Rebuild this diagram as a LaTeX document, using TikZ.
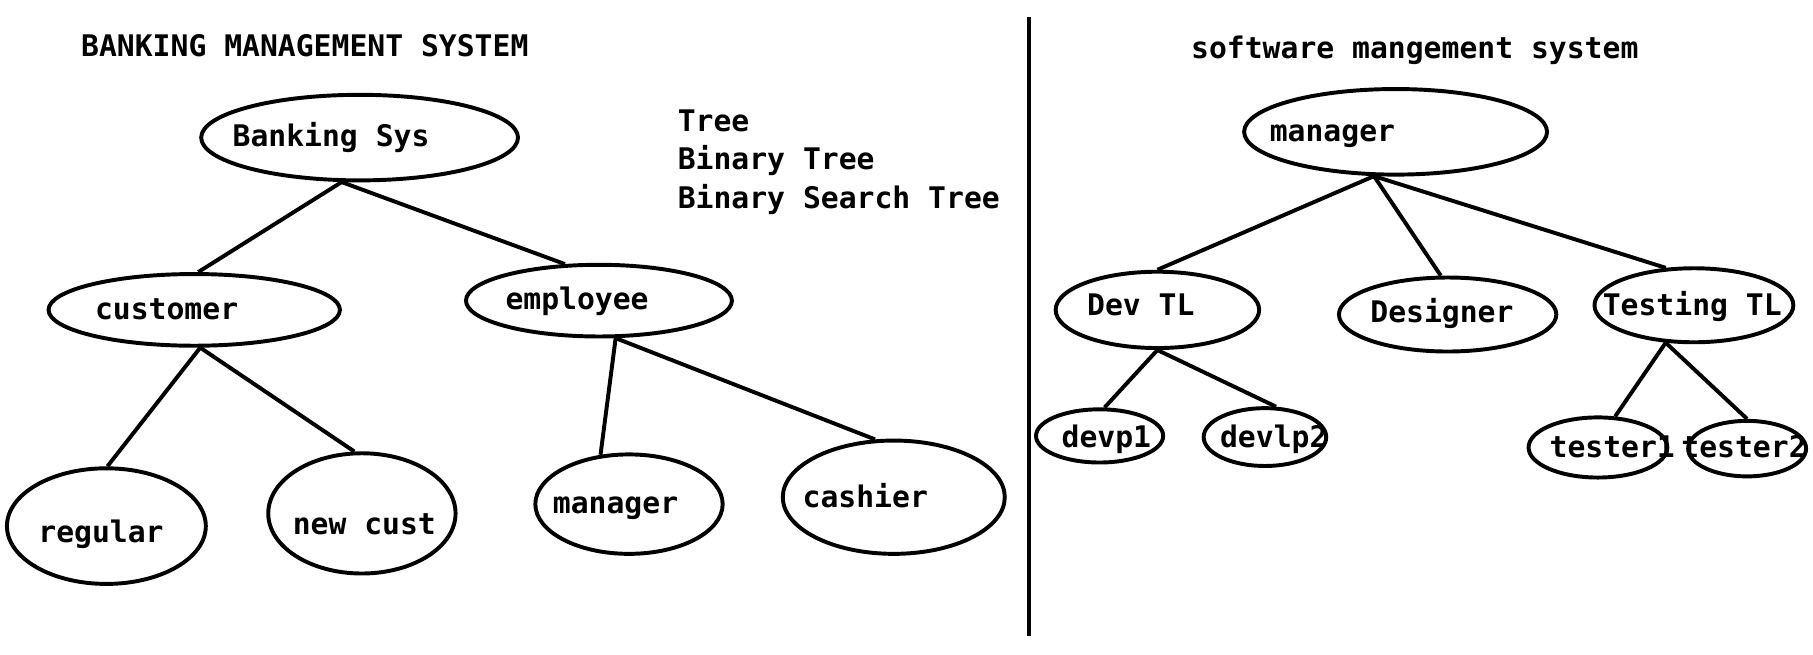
\documentclass[tikz,border=0pt]{standalone}
\usepackage{fontspec}
\setmonofont{DejaVu Sans Mono}
\usetikzlibrary{shapes.geometric}
\begin{document}
\begin{tikzpicture}[x=1pt,y=-1pt,
  ell/.style={draw, ellipse, line width=3.4pt, inner sep=0pt},
  lbl/.style={anchor=base west, inner sep=0pt, font=\ttfamily\bfseries\fontsize{25.7}{30}\selectfont},
  edge/.style={line width=3.4pt}]
\useasboundingbox (0,0) rectangle (1568,566);
% left tree
\node[ell, minimum width=274pt, minimum height=74pt] (bs) at (311,119) {};
\node[ell, minimum width=252pt, minimum height=62pt] (cust) at (168,268) {};
\node[ell, minimum width=230pt, minimum height=62pt] (emp) at (518,260) {};
\node[ell, minimum width=172pt, minimum height=100pt] (reg) at (92,455) {};
\node[ell, minimum width=162pt, minimum height=104pt] (nc) at (313,444) {};
\node[ell, minimum width=162pt, minimum height=86pt] (mgr) at (544,436) {};
\node[ell, minimum width=192pt, minimum height=98pt] (cash) at (773,430) {};
% right tree
\node[ell, minimum width=262pt, minimum height=74pt] (mr) at (1207,114) {};
\node[ell, minimum width=176pt, minimum height=66pt] (dtl) at (1001,268) {};
\node[ell, minimum width=188pt, minimum height=64pt] (des) at (1252,272) {};
\node[ell, minimum width=172pt, minimum height=64pt] (ttl) at (1465,264) {};
\node[ell, minimum width=110pt, minimum height=46pt] (d1) at (951,377) {};
\node[ell, minimum width=106pt, minimum height=50pt] (d2) at (1094,378) {};
\node[ell, minimum width=120pt, minimum height=52pt] (t1) at (1382,387) {};
\node[ell, minimum width=102pt, minimum height=48pt] (t2) at (1511,388) {};
% connectors
\draw[edge] (bs.248) -- (cust.84);
\draw[edge] (bs.248) -- (emp.133);
\draw[edge] (cust.279) -- (reg.89);
\draw[edge] (cust.279) -- (nc.97);
\draw[edge] (emp.294) -- (mgr.120);
\draw[edge] (emp.294) -- (cash.108);
\draw[edge] (mr.244) -- (dtl.90);
\draw[edge] (mr.244) -- (des.100);
\draw[edge] (mr.244) -- (ttl.127);
\draw[edge] (dtl.270) -- (d1.80);
\draw[edge] (dtl.270) -- (d2.70);
\draw[edge] (ttl.233) -- (t1.61);
\draw[edge] (ttl.233) -- (t2.90);
% divider
\draw[line width=3pt] (890,15) -- (890,550);
% texts
\node[lbl] (title) at (70,49) {BANKING MANAGEMENT SYSTEM};
\node[lbl] (stitle) at (1030,51) {software mangement system};
\node[lbl] (tr1) at (586,114) {Tree};
\node[lbl] (tr2) at (586,147) {Binary Tree};
\node[lbl] (tr3) at (586,180) {Binary Search Tree};
\node[lbl] (bst) at (201,127) {Banking Sys};
\node[lbl] (custt) at (82,276) {customer};
\node[lbl] (empt) at (437,268) {employee};
\node[lbl] (regt) at (33,469) {regular};
\node[lbl] (nct) at (253,462) {new cust};
\node[lbl] (mgrt) at (478,444) {manager};
\node[lbl] (casht) at (694,439) {cashier};
\node[lbl] (mrt) at (1098,122) {manager};
\node[lbl] (dtlt) at (940,273) {Dev TL};
\node[lbl] (dest) at (1185,279) {Designer};
\node[lbl] (ttlt) at (1386,273) {Testing TL};
\node[lbl] (d1t) at (918,387) {devp1};
\node[lbl] (d2t) at (1055,387) {devlp2};
\node[lbl] (t1t) at (1340,396) {tester1};
\node[lbl] (t2t) at (1454,396) {tester2};
\end{tikzpicture}
\end{document}
